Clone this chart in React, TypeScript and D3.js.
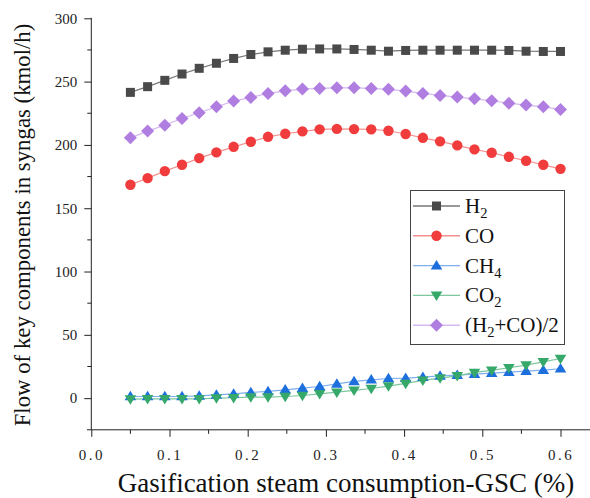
import React, { useEffect, useRef } from 'react';
import * as d3 from 'd3';

// gasification steam consumption (x) and component flows (kmol/h)
const gsc = [0.05, 0.072, 0.094, 0.116, 0.138, 0.16, 0.182, 0.204, 0.226, 0.248, 0.27, 0.292, 0.314,
  0.336, 0.358, 0.38, 0.402, 0.424, 0.446, 0.468, 0.49, 0.512, 0.534, 0.556, 0.578, 0.6];
const h2 = [241.5, 246, 251, 256, 260.5, 264.5, 268.3, 271.4, 273.5, 274.8, 275.6, 275.8, 275.8,
  275.4, 274.8, 274, 274.6, 274.8, 274.8, 274.8, 274.8, 274.8, 274.6, 274, 273.8, 273.8];
const co = [168.5, 173.8, 179.3, 184.3, 189.6, 194.1, 198.5, 202.5, 206.4, 208.8, 210.7, 212.3, 212.7,
  212.5, 212.3, 211.2, 208.6, 205.6, 202.8, 199.6, 196.5, 193.8, 190.6, 187.5, 184.3, 181.1];
const ch4 = [1.3, 1.3, 1.3, 1.3, 1.8, 2.6, 3.4, 4.5, 5.3, 6.6, 7.9, 9.2, 11.3,
  13.2, 14.5, 15.5, 15.8, 16.6, 17.6, 18.2, 19, 19.7, 20.5, 21.3, 22.1, 23.2];
const co2 = [-0.8, -0.5, -0.5, -0.5, -0.5, 0, 0.3, 0.8, 0.8, 1.3, 2.1, 3.4, 4.7,
  6.1, 7.6, 9.5, 11.6, 14, 15.8, 17.6, 20.3, 21.9, 24, 26.1, 28.7, 31.3];
const avg = [205.6, 210.9, 215.6, 220.9, 225.4, 230.1, 234.6, 237.5, 240.7, 242.7, 244.1, 244.6, 245.1,
  245.1, 244.6, 243.9, 242.5, 240.7, 239.1, 237.8, 236.4, 234.9, 233, 231.5, 230.1, 228];

const xTicks = [0, 0.1, 0.2, 0.3, 0.4, 0.5, 0.6];
const yTicks = [0, 50, 100, 150, 200, 250, 300];

const series = [
  { name: 'H2', sub: '2', base: 'H', tail: '', values: h2, fill: '#4a4a4a', line: '#777', shape: 'square' },
  { name: 'CO', sub: '', base: 'CO', tail: '', values: co, fill: '#f03c3c', line: '#f59090', shape: 'circle' },
  { name: 'CH4', sub: '4', base: 'CH', tail: '', values: ch4, fill: '#1e6fde', line: '#7fb0ee', shape: 'up' },
  { name: 'CO2', sub: '2', base: 'CO', tail: '', values: co2, fill: '#35a86a', line: '#7cc79d', shape: 'down' },
  { name: '(H2+CO)/2', sub: '2', base: '(H', tail: '+CO)/2', values: avg, fill: '#b07ee0', line: '#d5b9f0', shape: 'diamond' },
];

const App = () => {
  const svgRef = useRef(null);
  const width = 590;
  const height = 498;

  useEffect(() => {
    const svg = d3.select(svgRef.current);
    svg.selectAll('*').remove();

    const x = d3.scaleLinear().domain([0, 0.65]).range([91.3, 599.6]);
    const y = d3.scaleLinear().domain([-25, 300]).range([429.8, 18.3]);
    const serif = "'Liberation Serif', 'DejaVu Serif', serif";

    const drawMarker = (g, shape, cx, cy, fill) => {
      if (shape === 'square') {
        g.append('rect').attr('x', cx - 4.5).attr('y', cy - 4.5).attr('width', 9).attr('height', 9).attr('fill', fill);
      } else if (shape === 'circle') {
        g.append('circle').attr('cx', cx).attr('cy', cy).attr('r', 5.2).attr('fill', fill);
      } else if (shape === 'diamond') {
        const r = 6.5;
        g.append('path').attr('d', `M${cx},${cy - r}L${cx + r},${cy}L${cx},${cy + r}L${cx - r},${cy}Z`).attr('fill', fill);
      } else {
        const s = shape === 'up' ? 1 : -1;
        const h = 9.5;
        const w = 5.8;
        g.append('path')
          .attr('d', `M${cx},${cy - s * h * 0.6}L${cx + w},${cy + s * h * 0.4}L${cx - w},${cy + s * h * 0.4}Z`)
          .attr('fill', fill);
      }
    };

    // axes
    const xAxis = d3.axisBottom(x).tickValues(xTicks).tickSize(7).tickFormat(d3.format('.1f'));
    const gx = svg.append('g').attr('transform', `translate(0,${y(-25)})`).call(xAxis);
    gx.select('.domain').attr('d', `M87,0H590`).attr('stroke', '#222');
    gx.selectAll('.tick line').attr('stroke', '#222');
    gx.selectAll('.tick text').style('font-family', serif).attr('font-size', 15).attr('fill', '#222')
      .attr('letter-spacing', 2.5).attr('dy', '1.35em');
    svg.append('g').attr('transform', `translate(0,${y(-25)})`)
      .selectAll('line').data([0.05, 0.15, 0.25, 0.35, 0.45, 0.55]).join('line')
      .attr('x1', (d) => x(d)).attr('x2', (d) => x(d)).attr('y1', 0).attr('y2', 4).attr('stroke', '#222');

    const yAxis = d3.axisLeft(y).tickValues(yTicks).tickSize(7);
    const gy = svg.append('g').attr('transform', `translate(${x(0)},0)`).call(yAxis);
    gy.select('.domain').attr('d', `M0,${y(300) - 0.5}V${y(-25)}`).attr('stroke', '#222');
    gy.selectAll('.tick line').attr('stroke', '#222');
    gy.selectAll('.tick text').style('font-family', serif).attr('font-size', 15).attr('fill', '#222').attr('x', -14);
    svg.append('g').attr('transform', `translate(${x(0)},0)`)
      .selectAll('line').data([25, 75, 125, 175, 225, 275]).join('line')
      .attr('x1', 0).attr('x2', -4).attr('y1', (d) => y(d)).attr('y2', (d) => y(d)).attr('stroke', '#222');

    // titles
    svg.append('text').attr('x', 346).attr('y', 492).attr('text-anchor', 'middle')
      .style('font-family', serif).attr('font-size', 27).attr('fill', '#111')
      .text('Gasification steam consumption-GSC (%)');
    svg.append('text').attr('transform', `translate(30,225) rotate(-90)`).attr('text-anchor', 'middle')
      .style('font-family', serif).attr('font-size', 22.8).attr('fill', '#111')
      .text('Flow of key components in syngas (kmol/h)');

    // series
    const line = d3.line().x((d) => x(d[0])).y((d) => y(d[1]));
    series.forEach((s) => {
      const pts = gsc.map((g, i) => [g, s.values[i]]);
      svg.append('path').datum(pts).attr('d', line).attr('fill', 'none')
        .attr('stroke', s.line).attr('stroke-width', 1.2);
    });
    series.forEach((s) => {
      const g = svg.append('g');
      gsc.forEach((v, i) => drawMarker(g, s.shape, x(v), y(s.values[i]), s.fill));
    });

    // legend
    const lg = svg.append('g');
    lg.append('rect').attr('x', 410.5).attr('y', 190.5).attr('width', 154).attr('height', 154)
      .attr('fill', 'white').attr('stroke', '#444').attr('stroke-width', 1);
    series.forEach((s, i) => {
      const ry = 206 + i * 29.8;
      lg.append('line').attr('x1', 413).attr('x2', 460).attr('y1', ry).attr('y2', ry)
        .attr('stroke', s.line).attr('stroke-width', 1.4);
      drawMarker(lg, s.shape, 436.5, ry, s.fill);
      const t = lg.append('text').attr('x', 465).attr('y', ry + 7)
        .style('font-family', serif).attr('font-size', 21).attr('fill', '#111');
      t.append('tspan').text(s.base);
      if (s.sub) t.append('tspan').attr('font-size', 14.5).attr('dy', 5).text(s.sub);
      if (s.tail) t.append('tspan').attr('dy', -5).text(s.tail);
    });
    // eslint-disable-next-line react-hooks/exhaustive-deps
  }, []);

  return (
    <div style={{ position: 'absolute', left: 0, top: 0 }}>
      <svg ref={svgRef} width={width} height={height} style={{ display: 'block', background: 'white' }}></svg>
    </div>
  );
};

export default App;
